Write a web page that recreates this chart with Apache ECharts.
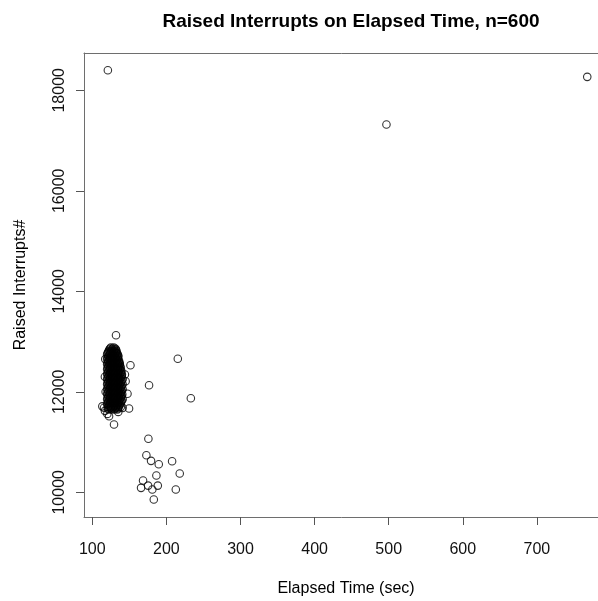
<!DOCTYPE html>
<html lang="en">

<head>
    <meta charset="UTF-8">
    <title>Raised Interrupts on Elapsed Time</title>
    <style>
        html, body { margin: 0; padding: 0; background: #fff; }
    </style>
</head>

<body>
    <div id="main" style="width: 598px; height: 601px"></div>
    <script src="https://cdn.jsdelivr.net/npm/echarts@6/dist/echarts.min.js"></script>
    <script type="text/javascript">
        // tick labels
        var xTicks = [100, 200, 300, 400, 500, 600, 700];
        var yTicks = [10000, 12000, 14000, 16000, 18000];

        // dense main cluster, read row by row: [interrupts, [elapsed seconds ...]]
        var clusterRows = [
            [12880, [125, 129]],
            [12840, [123, 126.5, 130, 132]],
            [12790, [121.5, 125, 128.5, 132]],
            [12745, [120, 123.5, 127, 130.5, 134]],
            [12700, [121.5, 125, 128.5, 132, 135]],
            [12650, [120, 123.5, 127, 130.5, 134]],
            [12600, [121.5, 125, 128.5, 132, 135.5]],
            [12550, [120, 123.5, 127, 130.5, 134, 137]],
            [12500, [121.5, 125, 128.5, 132, 135.5, 138]],
            [12450, [120, 123.5, 127, 130.5, 134, 137.5]],
            [12400, [121.5, 125, 128.5, 132, 135.5, 139]],
            [12350, [120, 123.5, 127, 130.5, 134, 137.5, 140]],
            [12300, [121.5, 125, 128.5, 132, 135.5, 139]],
            [12250, [120, 123.5, 127, 130.5, 134, 137.5, 141]],
            [12200, [121.5, 125, 128.5, 132, 135.5, 139]],
            [12150, [120, 123.5, 127, 130.5, 134, 137.5, 141]],
            [12100, [121.5, 125, 128.5, 132, 135.5, 139]],
            [12050, [120, 123.5, 127, 130.5, 134, 137.5, 141]],
            [12000, [121.5, 125, 128.5, 132, 135.5, 139]],
            [11950, [120, 123.5, 127, 130.5, 134, 137.5, 140.5]],
            [11900, [121.5, 125, 128.5, 132, 135.5, 139]],
            [11850, [120, 123.5, 127, 130.5, 134, 137.5, 141]],
            [11800, [121.5, 125, 128.5, 132, 135.5, 139]],
            [11750, [120, 123.5, 127, 130.5, 134, 137.5]],
            [11700, [121.5, 125, 128.5, 132, 135.5, 138.5]],
            [11650, [122, 126, 130, 134]]
        ];

        // second pass over the same blob, between the rows above
        var clusterRowsB = [
            [12860, [124, 127.5, 131]],
            [12815, [122.3, 125.8, 129.3, 132.5]],
            [12770, [120.8, 124.3, 127.8, 131.3, 133.5]],
            [12722, [122.3, 125.8, 129.3, 132.8, 135]],
            [12675, [120.8, 124.3, 127.8, 131.3, 134.5]],
            [12625, [122.3, 125.8, 129.3, 132.8, 136]],
            [12575, [120.8, 124.3, 127.8, 131.3, 134.8, 137]],
            [12525, [122.3, 125.8, 129.3, 132.8, 136.3]],
            [12475, [120.8, 124.3, 127.8, 131.3, 134.8, 138]],
            [12425, [122.3, 125.8, 129.3, 132.8, 136.3, 139]],
            [12375, [120.8, 124.3, 127.8, 131.3, 134.8, 138.3]],
            [12325, [122.3, 125.8, 129.3, 132.8, 136.3, 139.8]],
            [12275, [120.8, 124.3, 127.8, 131.3, 134.8, 138.3]],
            [12225, [122.3, 125.8, 129.3, 132.8, 136.3, 139.8]],
            [12175, [120.8, 124.3, 127.8, 131.3, 134.8, 138.3]],
            [12125, [122.3, 125.8, 129.3, 132.8, 136.3, 139.8]],
            [12075, [120.8, 124.3, 127.8, 131.3, 134.8, 138.3]],
            [12025, [122.3, 125.8, 129.3, 132.8, 136.3, 139.8]],
            [11975, [120.8, 124.3, 127.8, 131.3, 134.8, 138.3]],
            [11925, [122.3, 125.8, 129.3, 132.8, 136.3, 139.8]],
            [11875, [120.8, 124.3, 127.8, 131.3, 134.8, 138.3]],
            [11825, [122.3, 125.8, 129.3, 132.8, 136.3, 139.8]],
            [11775, [120.8, 124.3, 127.8, 131.3, 134.8, 138.3]],
            [11725, [122.3, 125.8, 129.3, 132.8, 136.3]],
            [11675, [120.8, 124.3, 127.8, 131.3, 134.8]]
        ];

        // loose points around the cluster and the outliers: [elapsed seconds, interrupts]
        var loosePoints = [
            [132, 13125], [151.5, 12528], [144, 12345], [145, 12211], [147.5, 11960],
            [149.6, 11667], [113.5, 11710], [115.8, 11683], [120.3, 11560], [122.6, 11514],
            [129.3, 11348], [117, 11620], [135, 11600], [141, 11680],
            [117, 12300], [117.5, 12650], [118, 12000],
            [121, 18400], [768, 18267], [497, 17320],
            [215.4, 12657], [176.6, 12131], [233, 11872],
            [175.7, 11064], [173, 10737], [179.3, 10625], [189.7, 10558], [207.7, 10618],
            [186.5, 10333], [218, 10373], [168.5, 10233], [165.8, 10088], [175.3, 10133],
            [181, 10054], [188.4, 10133], [212.7, 10054], [183, 9855]
        ];

        var points = [];
        clusterRows.concat(clusterRowsB).forEach(function(row) {
            row[1].forEach(function(x) {
                points.push([x, row[0]]);
            });
        });
        points = points.concat(loosePoints);

        var myChart = echarts.init(document.getElementById('main'));

        var textFont = 'Liberation Sans, Arial, Helvetica, sans-serif';
        var boxColor = '#6e6e6e';

        var option = {
            animation: false,
            title: {
                text: 'Raised Interrupts on Elapsed Time, n=600',
                left: 346,
                top: 7,
                textAlign: 'center',
                textStyle: {
                    fontFamily: textFont,
                    fontSize: 19,
                    fontWeight: 'bold',
                    color: '#000'
                }
            },
            grid: {
                left: 84,
                top: 53,
                width: 524,
                bottom: 84,
                show: false,
                outerBoundsMode: 'none'
            },
            xAxis: [{
                type: 'value',
                position: 'bottom',
                min: 88.8,
                max: 796,
                name: 'Elapsed Time (sec)',
                nameLocation: 'middle',
                nameGap: 64,
                nameTextStyle: { fontFamily: textFont, fontSize: 16, color: '#000' },
                splitLine: { show: false },
                axisLine: { show: true, lineStyle: { color: boxColor, width: 1 } },
                axisTick: {
                    show: true,
                    length: 8,
                    customValues: xTicks,
                    lineStyle: { color: '#555' }
                },
                axisLabel: {
                    customValues: xTicks,
                    margin: 25,
                    fontFamily: textFont,
                    fontSize: 16,
                    color: '#111'
                }
            }, {
                // top edge of the plot box
                type: 'value',
                position: 'top',
                min: 88.8,
                max: 796,
                splitLine: { show: false },
                axisLine: { show: true, lineStyle: { color: boxColor, width: 1 } },
                axisTick: { show: false },
                axisLabel: { show: false }
            }],
            yAxis: {
                type: 'value',
                min: 9508,
                max: 18742,
                name: 'Raised Interrupts#',
                nameLocation: 'middle',
                nameGap: 55,
                nameRotate: 90,
                nameTextStyle: { fontFamily: textFont, fontSize: 16, color: '#000' },
                splitLine: { show: false },
                axisLine: { show: true, lineStyle: { color: boxColor, width: 1 } },
                axisTick: {
                    show: true,
                    length: 8,
                    customValues: yTicks,
                    lineStyle: { color: '#555' }
                },
                axisLabel: {
                    customValues: yTicks,
                    rotate: 90,
                    margin: 16,
                    fontFamily: textFont,
                    fontSize: 16,
                    color: '#111',
                    formatter: function(v) {
                        return String(v);
                    }
                }
            },
            series: [{
                type: 'scatter',
                xAxisIndex: 0,
                data: points,
                symbol: 'circle',
                symbolSize: 7.5,
                itemStyle: {
                    color: 'rgba(0,0,0,0)',
                    borderColor: '#000',
                    borderWidth: 1.1
                },
                emphasis: { disabled: true }
            }]
        };
        myChart.setOption(option);
    </script>

</body>

</html>
